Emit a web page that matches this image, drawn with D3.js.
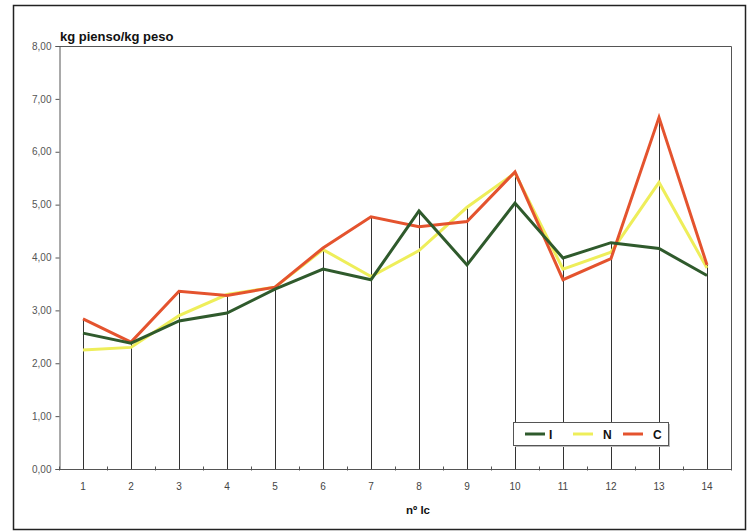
<!DOCTYPE html>
<html>
<head>
<meta charset="utf-8">
<script src="https://cdn.jsdelivr.net/npm/d3@7"></script>
<style>
  html, body { margin: 0; padding: 0; background: #fff; }
  svg { display: block; font-family: "Liberation Sans", Arial, sans-serif; }
</style>
</head>
<body>
<svg id="chart" width="752" height="532"></svg>
<script>
// Lot numbers on the x axis
const categories = ["1","2","3","4","5","6","7","8","9","10","11","12","13","14"];
// Feed conversion (kg pienso / kg peso) per series
const seriesI = [2.57, 2.38, 2.80, 2.95, 3.40, 3.78, 3.58, 4.88, 3.86, 5.03, 3.99, 4.28, 4.17, 3.66];
const seriesN = [2.25, 2.30, 2.90, 3.30, 3.44, 4.15, 3.64, 4.13, 4.95, 5.60, 3.78, 4.10, 5.42, 3.80];
const seriesC = [2.84, 2.40, 3.36, 3.28, 3.44, 4.18, 4.77, 4.58, 4.68, 5.62, 3.58, 3.98, 6.65, 3.86];
const seriesNames = ["I", "N", "C"];
const yTicks = [0, 1, 2, 3, 4, 5, 6, 7, 8];

const colors = { I: "#2f5a2c", N: "#eeee5a", C: "#e4532e" };
const values = { I: seriesI, N: seriesN, C: seriesC };

const svg = d3.select("#chart");

// outer frame
svg.append("rect")
  .attr("x", 13.5).attr("y", 5.5).attr("width", 732).attr("height", 524)
  .attr("fill", "#fff").attr("stroke", "#222").attr("stroke-width", 1.5);

const plotLeft = 59, plotRight = 731, plotTop = 46, plotBottom = 469;

const x = d3.scaleBand().domain(categories).range([plotLeft, plotRight]).paddingInner(0).paddingOuter(0);
const cx = c => x(c) + x.bandwidth() / 2;
const y = d3.scaleLinear().domain([0, 8]).range([plotBottom, plotTop]);

// plot area border (top and right)
svg.append("path")
  .attr("d", `M${plotLeft},${plotTop + 0.5}H${plotRight + 0.5}V${plotBottom}`)
  .attr("fill", "none").attr("stroke", "#555").attr("stroke-width", 1);

// y axis
const yAxis = d3.axisLeft(y)
  .tickValues(yTicks)
  .tickSize(4)
  .tickPadding(4)
  .tickFormat(d => d3.format(".2f")(d).replace(".", ","));
const gy = svg.append("g").attr("transform", `translate(${plotLeft + 0.5},0)`).call(yAxis);
gy.select(".domain").attr("stroke", "#555");
gy.selectAll(".tick line").attr("stroke", "#555");
gy.selectAll(".tick text").attr("fill", "#555").attr("font-size", 10);

// x axis with ticks on band boundaries
const gx = svg.append("g").attr("transform", `translate(0,${plotBottom + 0.5})`);
gx.append("path").attr("d", `M${plotLeft},0H${plotRight}`).attr("stroke", "#555").attr("fill", "none");
const boundaries = categories.map(c => x(c)).concat([x(categories[categories.length - 1]) + x.bandwidth()]);
gx.selectAll("line.bt").data(boundaries).join("line")
  .attr("class", "bt")
  .attr("x1", d => Math.round(d) + 0.5).attr("x2", d => Math.round(d) + 0.5)
  .attr("y1", -3).attr("y2", 1)
  .attr("stroke", "#555");
gx.selectAll("text").data(categories).join("text")
  .attr("x", d => cx(d)).attr("y", 20)
  .attr("text-anchor", "middle")
  .attr("font-size", 10).attr("fill", "#444")
  .text(d => d);

// drop lines from the highest series value down to the axis
const maxima = categories.map((c, i) => d3.max(seriesNames, s => values[s][i]));
svg.append("g").selectAll("line").data(categories).join("line")
  .attr("x1", d => Math.round(cx(d)) + 0.5).attr("x2", d => Math.round(cx(d)) + 0.5)
  .attr("y1", (d, i) => y(maxima[i])).attr("y2", plotBottom)
  .attr("stroke", "#333").attr("stroke-width", 1);

// series lines
const line = d3.line().x((d, i) => cx(categories[i])).y(d => y(d));
["N", "C", "I"].forEach(s => {
  svg.append("path")
    .datum(values[s])
    .attr("d", line)
    .attr("fill", "none")
    .attr("stroke", colors[s])
    .attr("stroke-width", 3)
    .attr("stroke-linejoin", "miter");
});

// axis titles
svg.append("text")
  .attr("x", 60).attr("y", 41)
  .attr("font-size", 13).attr("font-weight", "bold").attr("fill", "#111")
  .text("kg pienso/kg peso");
svg.append("text")
  .attr("x", 406).attr("y", 514)
  .attr("font-size", 11.5).attr("font-weight", "bold").attr("fill", "#111")
  .text("nº lc");

// legend
const lg = svg.append("g").attr("transform", "translate(513,422)");
lg.append("rect").attr("x", 2).attr("y", 2).attr("width", 155).attr("height", 23).attr("fill", "#bbb");
lg.append("rect").attr("x", 0.5).attr("y", 0.5).attr("width", 155).attr("height", 23)
  .attr("fill", "#fff").attr("stroke", "#555");
const legendX = [12, 60, 110];
seriesNames.forEach((s, i) => {
  lg.append("line")
    .attr("x1", legendX[i]).attr("x2", legendX[i] + 20)
    .attr("y1", 12).attr("y2", 12)
    .attr("stroke", colors[s]).attr("stroke-width", 3);
  lg.append("text")
    .attr("x", legendX[i] + 24 + (s === "I" ? 0 : 6)).attr("y", 16.5)
    .attr("font-size", 12).attr("font-weight", "bold").attr("fill", "#111")
    .text(s);
});
</script>
</body>
</html>
